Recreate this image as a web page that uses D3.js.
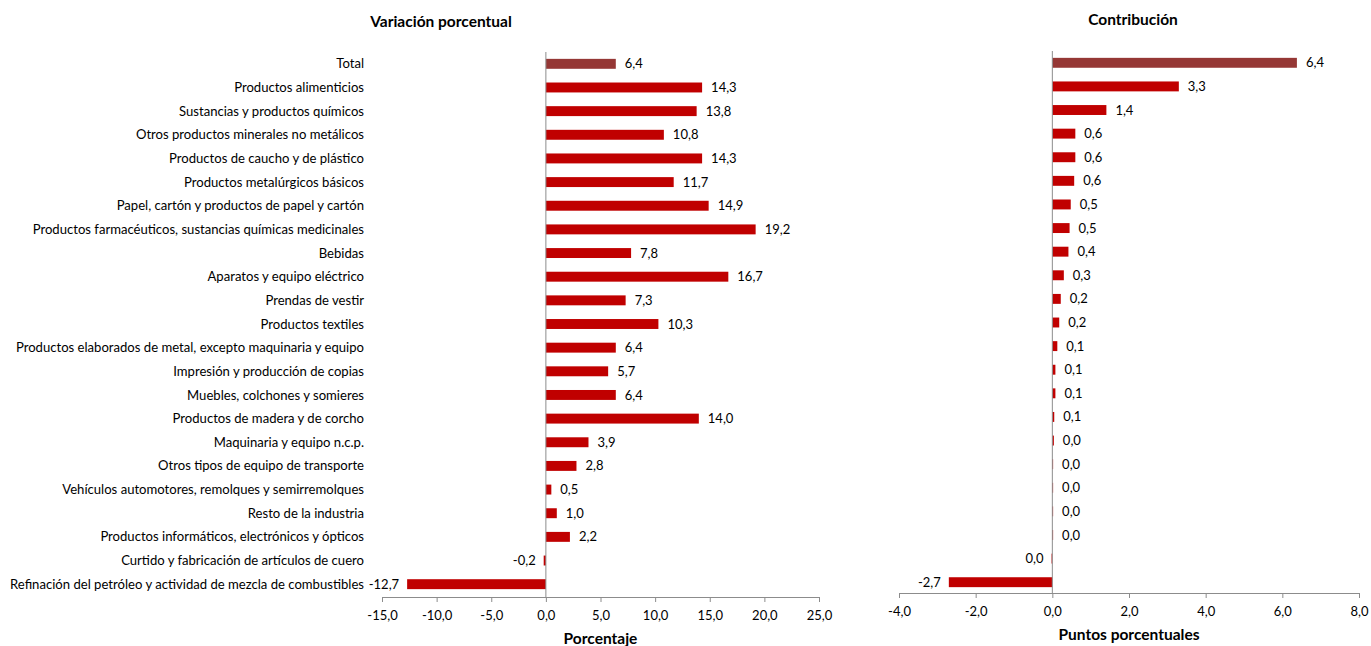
<!DOCTYPE html>
<html>
<head>
<meta charset="utf-8">
<script src="https://cdn.jsdelivr.net/npm/d3@7"></script>
<style>
  body { margin: 0; background: #fff; }
  svg { display: block; font-family: Lato, "Open Sans", sans-serif; }
</style>
</head>
<body>
<svg width="1371" height="646"></svg>
<script>
const categories = [
  "Total",
  "Productos alimenticios",
  "Sustancias y productos químicos",
  "Otros productos minerales no metálicos",
  "Productos de caucho y de plástico",
  "Productos metalúrgicos básicos",
  "Papel, cartón y productos de papel y cartón",
  "Productos farmacéuticos, sustancias químicas medicinales",
  "Bebidas",
  "Aparatos y equipo eléctrico",
  "Prendas de vestir",
  "Productos textiles",
  "Productos elaborados de metal, excepto maquinaria y equipo",
  "Impresión y producción de copias",
  "Muebles, colchones y somieres",
  "Productos de madera y de corcho",
  "Maquinaria y equipo n.c.p.",
  "Otros tipos de equipo de transporte",
  "Vehículos automotores, remolques y semirremolques",
  "Resto de la industria",
  "Productos informáticos, electrónicos y ópticos",
  "Curtido y fabricación de artículos de cuero",
  "Refinación del petróleo y actividad de mezcla de combustibles"
]

const variacion = [6.4, 14.3, 13.8, 10.8, 14.3, 11.7, 14.9, 19.2, 7.8, 16.7, 7.3, 10.3,
  6.4, 5.7, 6.4, 14.0, 3.9, 2.8, 0.5, 1.0, 2.2, -0.2, -12.7]

const contribucion = [6.38, 3.3, 1.41, 0.6, 0.6, 0.57, 0.48, 0.45, 0.42, 0.3, 0.22, 0.18,
  0.13, 0.08, 0.08, 0.05, 0.04, 0.02, 0.02, 0.02, 0.02, -0.02, -2.7]

const ticksVariacion = [-15, -10, -5, 0, 5, 10, 15, 20, 25]
const ticksContribucion = [-4, -2, 0, 2, 4, 6, 8]

const es = d3.formatLocale({decimal: ",", thousands: ".", grouping: [3], currency: ["", "€"], minus: "-"})
const fmt = es.format(".1f")

const svg = d3.select('svg')

const drawPanel = (opts) => {
  const rows = categories.map((c, i) => ({name: c, value: opts.values[i], total: i === 0}))

  const x = d3.scaleLinear().domain(opts.domain).range(opts.xRange)
  const y = d3.scaleBand()
    .domain(categories)
    .range(opts.yRange)
    .paddingInner(0.58)
    .paddingOuter(0.29)

  const g = svg.append('g')

  g.selectAll('.bar')
    .data(rows)
    .enter()
    .append('rect')
    .classed('bar', true)
    .attr('x', d => x(Math.min(0, d.value)))
    .attr('y', d => y(d.name))
    .attr('width', d => Math.abs(x(d.value) - x(0)))
    .attr('height', y.bandwidth())
    .attr('fill', d => d.total ? '#953735' : '#C00000')

  g.selectAll('.val')
    .data(rows)
    .enter()
    .append('text')
    .classed('val', true)
    .attr('x', d => d.value < 0 ? x(d.value) - 8 : x(d.value) + 9)
    .attr('y', d => y(d.name) + y.bandwidth() / 2)
    .attr('dy', '0.35em')
    .attr('text-anchor', d => d.value < 0 ? 'end' : 'start')
    .attr('font-size', 13)
    .attr('fill', '#000')
    .text(d => fmt(d.value))

  // zero line
  g.append('line')
    .attr('x1', x(0)).attr('x2', x(0))
    .attr('y1', opts.yRange[0]).attr('y2', opts.axisY)
    .attr('stroke', '#8c8c8c')
    .attr('stroke-width', 1)

  const axis = g.append('g')
    .attr('transform', `translate(0,${opts.axisY})`)
    .call(d3.axisBottom(x).tickValues(opts.ticks).tickFormat(fmt).tickSizeInner(5).tickSizeOuter(0))

  axis.select('.domain').attr('stroke', '#8c8c8c')
  axis.selectAll('.tick line').attr('stroke', '#8c8c8c')
  axis.selectAll('.tick text')
    .attr('font-family', 'Lato, sans-serif')
    .attr('font-size', 13)
    .attr('fill', '#000')
    .attr('y', 11)
    .attr('dy', '0.9em')

  g.append('text')
    .attr('x', (opts.xRange[0] + opts.xRange[1]) / 2)
    .attr('y', opts.axisY + 47)
    .attr('text-anchor', 'middle')
    .attr('font-weight', 'bold')
    .attr('font-size', 15.5)
    .text(opts.axisTitle)

  g.append('text')
    .attr('x', opts.titleX)
    .attr('y', opts.titleY)
    .attr('text-anchor', 'middle')
    .attr('font-weight', 'bold')
    .attr('font-size', 15.5)
    .text(opts.title)

  if (opts.showCategories) {
    g.selectAll('.cat')
      .data(rows)
      .enter()
      .append('text')
      .classed('cat', true)
      .attr('x', 364)
      .attr('y', d => y(d.name) + y.bandwidth() / 2)
      .attr('dy', '0.35em')
      .attr('text-anchor', 'end')
      .attr('font-size', 13.1)
      .attr('fill', '#000')
      .text(d => d.name)
  }
}

drawPanel({
  values: variacion,
  domain: [-15, 25],
  xRange: [382, 819],
  yRange: [52, 596],
  axisY: 597,
  ticks: ticksVariacion,
  axisTitle: 'Porcentaje',
  title: 'Variación porcentual',
  titleX: 441,
  titleY: 27,
  showCategories: true
})

drawPanel({
  values: contribucion,
  domain: [-4, 8],
  xRange: [899, 1359],
  yRange: [51, 594],
  axisY: 593,
  ticks: ticksContribucion,
  axisTitle: 'Puntos porcentuales',
  title: 'Contribución',
  titleX: 1133,
  titleY: 25,
  showCategories: false
})
</script>
</body>
</html>
